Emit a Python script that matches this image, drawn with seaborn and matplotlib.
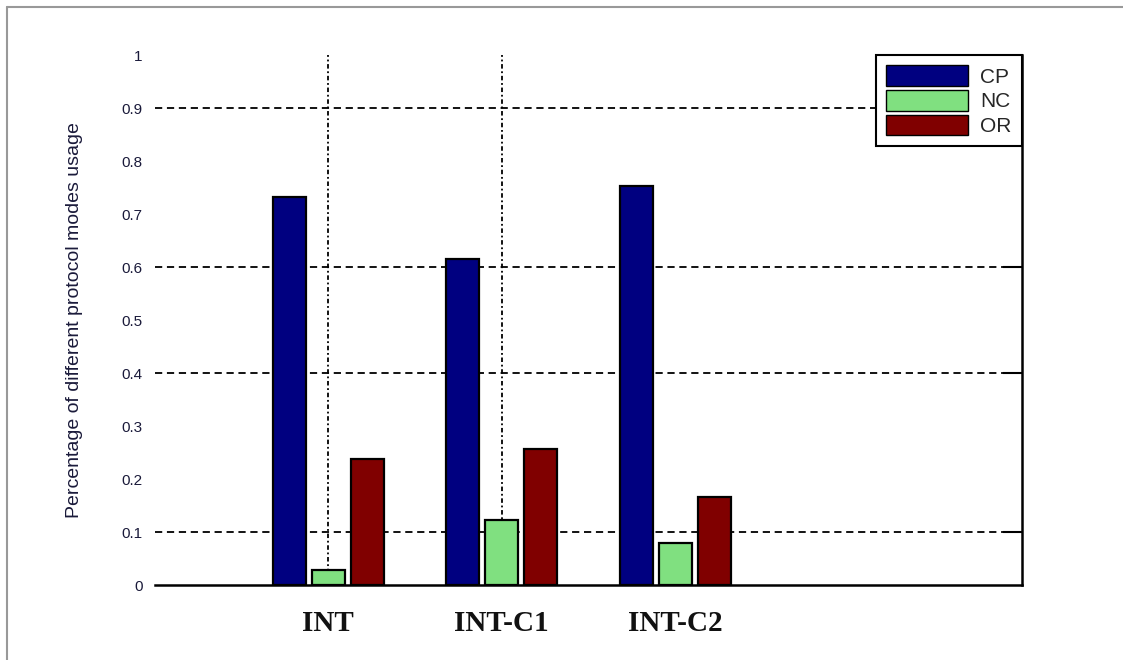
import matplotlib
matplotlib.use("Agg")
import matplotlib.pyplot as plt
import matplotlib.patches as mpatches
from matplotlib.lines import Line2D
import pandas as pd
import seaborn as sns

# 数据
groups = ["INT", "INT-C1", "INT-C2"]
modes = ["CP", "NC", "OR"]
cp_vals = [0.732, 0.616, 0.753]
nc_vals = [0.029, 0.123, 0.080]
or_vals = [0.237, 0.257, 0.167]
y_ticks = [0, 0.1, 0.2, 0.3, 0.4, 0.5, 0.6, 0.7, 0.8, 0.9, 1.0]
y_tick_labels = ["0", "0.1", "0.2", "0.3", "0.4", "0.5", "0.6", "0.7", "0.8", "0.9", "1"]
grid_levels = [0.1, 0.4, 0.6, 0.9]
vgrid_groups = ["INT", "INT-C1"]
mode_colors = {"CP": "#000080", "NC": "#80e080", "OR": "#800000"}

df = pd.DataFrame({
    "group": groups * 3,
    "mode": ["CP"] * 3 + ["NC"] * 3 + ["OR"] * 3,
    "value": cp_vals + nc_vals + or_vals,
})

sns.set_style("white")
plt.rcParams["font.family"] = ["Liberation Sans", "DejaVu Sans"]

fig = plt.figure(figsize=(11.23, 6.60), dpi=100)
ax = fig.add_axes([0.138, 0.1136, 0.772, 0.803])

sns.barplot(data=df, x="group", y="value", hue="mode", order=groups, hue_order=modes,
            palette=mode_colors, width=0.675, gap=0.15, errorbar=None,
            edgecolor="black", linewidth=1.6, saturation=1, legend=False, ax=ax)

ax.set_axisbelow(True)
ax.set_xlim(-1, 4)
ax.set_ylim(0, 1)

# 横向网格线只画部分刻度（用次刻度实现）
ax.yaxis.remove_overlapping_locs = False
ax.set_yticks(y_ticks)
ax.set_yticklabels(y_tick_labels)
ax.set_yticks(grid_levels, minor=True)
ax.grid(False)
ax.grid(which="minor", axis="y", color="black", linestyle=(0, (4, 2.6)), linewidth=1.3)
ax.tick_params(axis="y", which="major", length=0, pad=9, labelsize=11, labelcolor="#1a1a3a")
ax.tick_params(axis="y", which="minor", left=False, right=True, direction="in",
               length=14, width=1.5, color="black")

# 竖向网格线
for g in vgrid_groups:
    ax.axvline(groups.index(g), color="black", linestyle=(0, (2.5, 1.5, 1, 1.5)),
               linewidth=1.3, zorder=0.5)

ax.tick_params(axis="x", length=0, pad=18)
for lbl in ax.get_xticklabels():
    lbl.set_fontfamily("Liberation Serif")
    lbl.set_fontweight("bold")
    lbl.set_fontsize(21)
    lbl.set_color("#111111")

ax.set_xlabel("")
ax.set_ylabel("Percentage of different protocol modes usage", fontsize=14, color="#1a1a3a")
ax.yaxis.set_label_coords(-0.083, 0.5)

for side in ["top", "left"]:
    ax.spines[side].set_visible(False)
for side in ["bottom", "right"]:
    ax.spines[side].set_visible(True)
    ax.spines[side].set_color("black")
    ax.spines[side].set_linewidth(1.8)

handles = [mpatches.Patch(facecolor=mode_colors[m], edgecolor="black", linewidth=1.0, label=m)
           for m in modes]
leg = ax.legend(handles=handles, loc="upper right", fontsize=15, frameon=True, fancybox=False,
                borderaxespad=0, handlelength=3.9, handleheight=1.15, labelspacing=0.15,
                borderpad=0.5, handletextpad=0.6)
leg.get_frame().set_edgecolor("black")
leg.get_frame().set_linewidth(1.5)
leg.get_frame().set_alpha(1)

# 外框
fig.add_artist(Line2D([0.0062, 1.0], [0.9894, 0.9894], transform=fig.transFigure,
                      color="#999999", linewidth=1.5))
fig.add_artist(Line2D([0.0062, 0.0062], [0.0, 0.9894], transform=fig.transFigure,
                      color="#999999", linewidth=1.5))

fig.savefig("out.png", dpi=100)
